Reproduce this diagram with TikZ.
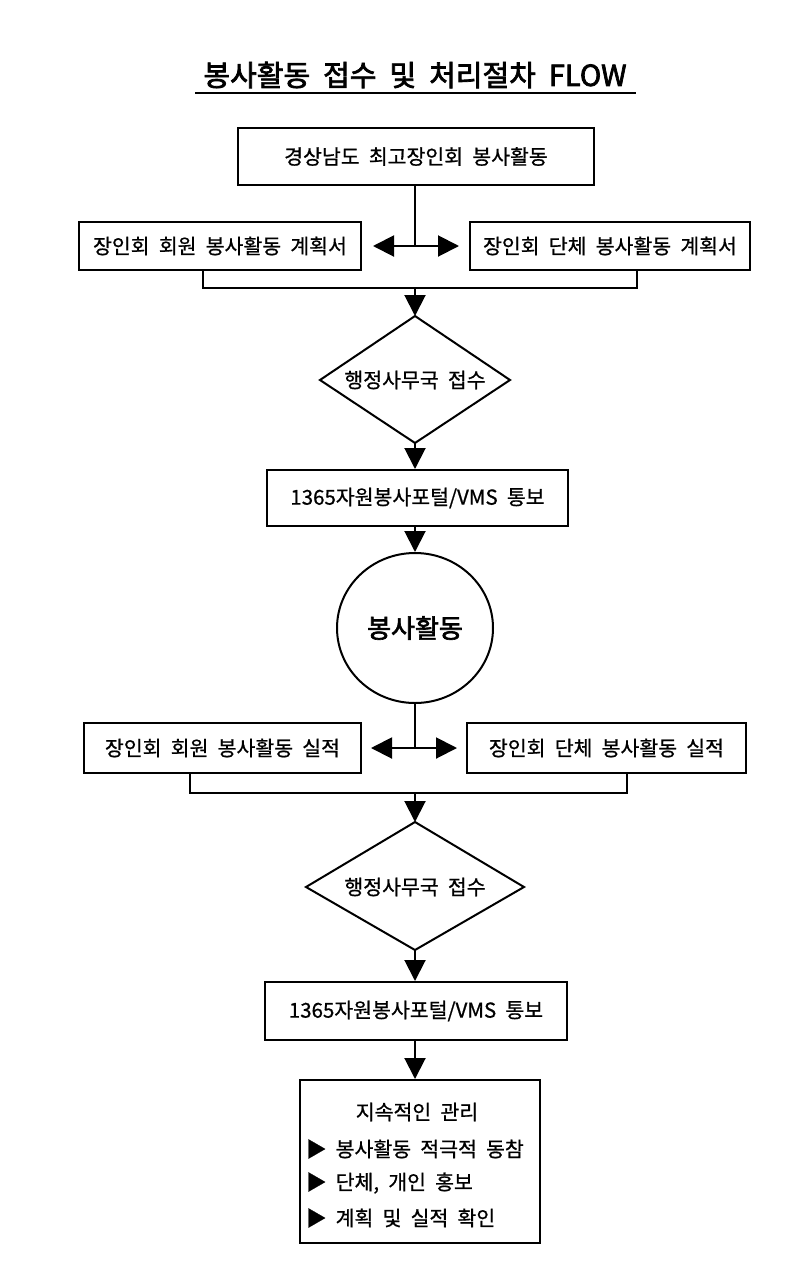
\documentclass[tikz,border=0pt]{standalone}
\usepackage{fontspec}
\setmainfont{Noto Sans CJK KR}
\newfontfamily\kr[FakeBold=0.8]{Noto Sans CJK KR}
\newfontfamily\krb[FakeBold=2.5]{Noto Sans CJK KR}
\usetikzlibrary{arrows.meta,shapes.geometric}
\newcommand{\bodyfont}{\kr\fontsize{20.5}{22}\selectfont}
\begin{document}
\begin{tikzpicture}[x=1pt,y=-1pt,
  line width=2pt,
  box/.style={draw,rectangle,minimum height=#1,inner sep=0pt,font=\bodyfont},
  lbl/.style={inner sep=0pt,font=\bodyfont},
  tri/.style={-{Triangle[width=21pt,length=21pt]}},
  dtri/.style={{Triangle[width=21pt,length=21pt]}-{Triangle[width=21pt,length=21pt]}}
]
\useasboundingbox (0,0) rectangle (809,1280);
% title
\node[font=\krb\fontsize{29}{32}\selectfont,inner sep=0pt] (title) at (415,75) {봉사활동\ \ 접수\ \ 및\ \ 처리절차\ \ FLOW};
\draw[line width=1.5pt] (195,93) -- (636,93);
% box 1
\node[box=57pt,minimum width=356pt] (b1) at (416,156.5) {경상남도\ \ 최고장인회\ \ 봉사활동};
\node[box=48pt,minimum width=282pt] (b2l) at (220,246) {장인회\ \ 회원\ \ 봉사활동\ \ 계획서};
\node[box=48pt,minimum width=280pt] (b2r) at (610,246) {장인회\ \ 단체\ \ 봉사활동\ \ 계획서};
\coordinate (j1) at (415,246);
\draw (b1.south -| j1) -- (j1);
\draw[dtri] ([xshift=11pt]b2l.east) -- ([xshift=-10pt]b2r.west);
\coordinate (c1l) at (203,288);
\coordinate (c1r) at (637,288);
\draw (b2l.south -| c1l) -- (c1l) -- (c1r) -- (b2r.south -| c1r);
% diamond 1
\draw (415,316) coordinate (d1t) -- (510,380) -- (415,443) coordinate (d1b) -- (320,380) -- cycle;
\node[lbl] (d1) at (415,380) {행정사무국\ \ 접수};
\draw[tri] (415,288) -- (d1t);
\node[box=56pt,minimum width=301pt] (b3) at (417.5,498) {1365자원봉사포털/VMS\ \ 통보};
\draw[tri] (d1b) -- (b3.north -| d1b);
% circle
\node[draw,ellipse,minimum width=156pt,minimum height=150pt,inner sep=0pt,font=\krb\fontsize{26}{28}\selectfont] (c) at (415,628) {봉사활동};
\draw[tri] (b3.south -| c) -- (c.north);
% results
\node[box=50pt,minimum width=277pt] (b4l) at (222.5,748) {장인회\ \ 회원\ \ 봉사활동\ \ 실적};
\node[box=50pt,minimum width=279pt] (b4r) at (606.5,748) {장인회\ \ 단체\ \ 봉사활동\ \ 실적};
\coordinate (j2) at (415,748);
\draw (c.south) -- (j2);
\draw[dtri] ([xshift=9pt]b4l.east) -- ([xshift=-9pt]b4r.west);
\coordinate (c2l) at (190,793);
\coordinate (c2r) at (627,793);
\draw (b4l.south -| c2l) -- (c2l) -- (c2r) -- (b4r.south -| c2r);
% diamond 2
\draw (415,822) coordinate (d2t) -- (524,887) -- (415,950) coordinate (d2b) -- (306,887) -- cycle;
\node[lbl] (d2) at (415,887) {행정사무국\ \ 접수};
\draw[tri] (415,793) -- (d2t);
\node[box=58pt,minimum width=302pt] (b5) at (416,1011) {1365자원봉사포털/VMS\ \ 통보};
\draw[tri] (d2b) -- (b5.north -| d2b);
% final box
\node[draw,rectangle,minimum width=240pt,minimum height=163pt,inner sep=0pt] (b6) at (420,1161.5) {};
\draw[tri] (b5.south -| d2b) -- (b6.north -| d2b);
\node[lbl] (t0) at (417,1112) {지속적인\ \ 관리};
\node[lbl,anchor=west] (t1) at (305,1149) {▶\ \ 봉사활동\ \ 적극적\ \ 동참};
\node[lbl,anchor=west] (t2) at (305,1183) {▶\ \ 단체,\ \ 개인\ \ 홍보};
\node[lbl,anchor=west] (t3) at (305,1218) {▶\ \ 계획\ \ 및\ \ 실적\ \ 확인};
\end{tikzpicture}
\end{document}
